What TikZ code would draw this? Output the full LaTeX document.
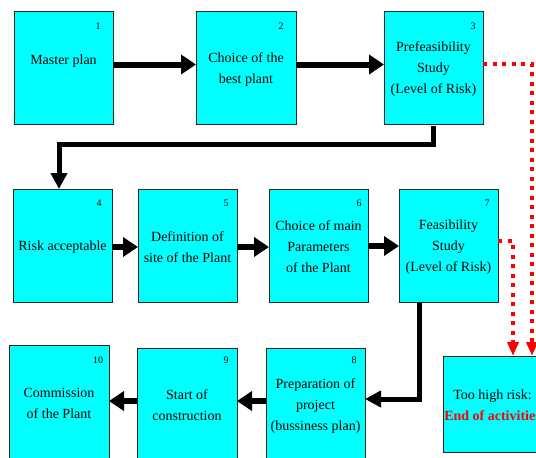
\documentclass[tikz,border=0pt]{standalone}
\usepackage{fontspec}
\setmainfont{Liberation Serif}
\usetikzlibrary{arrows.meta}
\definecolor{boxcyan}{RGB}{0,255,255}
\definecolor{alarm}{RGB}{255,0,0}
\begin{document}
\begin{tikzpicture}[x=1pt,y=-1pt,
  stepbox/.style={draw=black!85, line width=0.9pt, fill=boxcyan, minimum width=99pt,
    minimum height=113pt, inner sep=0pt, outer sep=0pt},
  steptext/.style={align=center, font=\fontsize{14}{21}\selectfont, inner sep=0pt},
  num/.style={font=\fontsize{10}{12}\selectfont, inner sep=0pt},
  flow/.style={line width=6pt, -{Triangle[length=15pt,width=19pt]}},
  route/.style={line width=5pt, -{Triangle[length=16pt,width=16pt]}},
  risk/.style={draw=alarm, line width=4pt, dash pattern=on 4pt off 5.5pt,
    -{Triangle[length=14pt,width=11pt]}}
]
\useasboundingbox (0,0) rectangle (536,458);
\clip (0,0) rectangle (536,458);

% process boxes
\node[stepbox] (b1) at (63.5,67.5) {};
\node[stepbox, minimum width=100pt] (b2) at (246,67.5) {};
\node[stepbox] (b3) at (433.5,67.5) {};
\node[stepbox] (b4) at (62.5,245.5) {};
\node[stepbox] (b5) at (187.5,245.5) {};
\node[stepbox] (b6) at (318.5,245.5) {};
\node[stepbox] (b7) at (448.5,245.5) {};
\node[stepbox] (b8) at (315.5,404.5) {};
\node[stepbox, minimum width=100pt] (b9) at (187,404.5) {};
\node[stepbox, minimum width=100pt] (b10) at (59,401.5) {};
\node[stepbox, minimum height=96pt] (bt) at (492.5,404) {};

% box texts
\node[steptext] (t1) at (63.5,61) {Master plan};
\node[steptext] (t2) at (246,70) {Choice of the\\best plant};
\node[steptext] (t3) at (433.5,69) {Prefeasibility\\Study\\(Level of Risk)};
\node[steptext] (t4) at (62.5,247) {Risk acceptable};
\node[steptext] (t5) at (187.5,247) {Definition of\\site of the Plant};
\node[steptext] (t6) at (318.5,247) {Choice of main\\Parameters\\of the Plant};
\node[steptext] (t7) at (448.5,247) {Feasibility\\Study\\(Level of Risk)};
\node[steptext] (t8) at (315.5,406) {Preparation of\\project\\(bussiness plan)};
\node[steptext] (t9) at (187,405) {Start of\\construction};
\node[steptext] (t10) at (59,403) {Commission\\of the Plant};
\node[steptext] (tt) at (492.5,405.5) {Too high risk:\\{\bfseries\color{alarm}End of activities}};

% step numbers
\node[num] (n1) at (98,26) {1};
\node[num] (n2) at (281,26) {2};
\node[num] (n3) at (473,26) {3};
\node[num] (n4) at (99,203) {4};
\node[num] (n5) at (226,203) {5};
\node[num] (n6) at (359,203) {6};
\node[num] (n7) at (487,203) {7};
\node[num] (n8) at (354,360) {8};
\node[num] (n9) at (226,360) {9};
\node[num] (n10) at (98,360) {10};

% main flow
\draw[flow] ([yshift=3pt]b1.east) -- ([yshift=3pt]b2.west);
\draw[flow] ([yshift=3pt]b2.east) -- ([yshift=3pt]b3.west);
\draw[route] ([yshift=-2pt]b3.south) -- ++(0,18) -| ([xshift=-3.5pt]b4.north);
\draw[flow] ([yshift=-1.5pt]b4.east) -- ([yshift=-1.5pt]b5.west);
\draw[flow] ([yshift=-1.5pt]b5.east) -- ([yshift=-1.5pt]b6.west);
\draw[flow] ([yshift=-0.5pt]b6.east) -- ([yshift=-0.5pt]b7.west);
\draw[route] ([xshift=-29.5pt,yshift=-1pt]b7.south) |- ([yshift=5.5pt]b8.east);
\draw[flow] ([yshift=3.5pt]b8.west) -- ([yshift=3.5pt]b9.east);
\draw[flow] ([yshift=3.5pt]b9.west) -- ([yshift=0.5pt]b10.east);

% exits when the risk is too high
\draw[risk] ([yshift=3.5pt]b3.east) -| ([xshift=39.5pt]bt.north);
\draw[risk] ([yshift=4.5pt]b7.east) -| ([xshift=20.5pt]bt.north);
\end{tikzpicture}
\end{document}
